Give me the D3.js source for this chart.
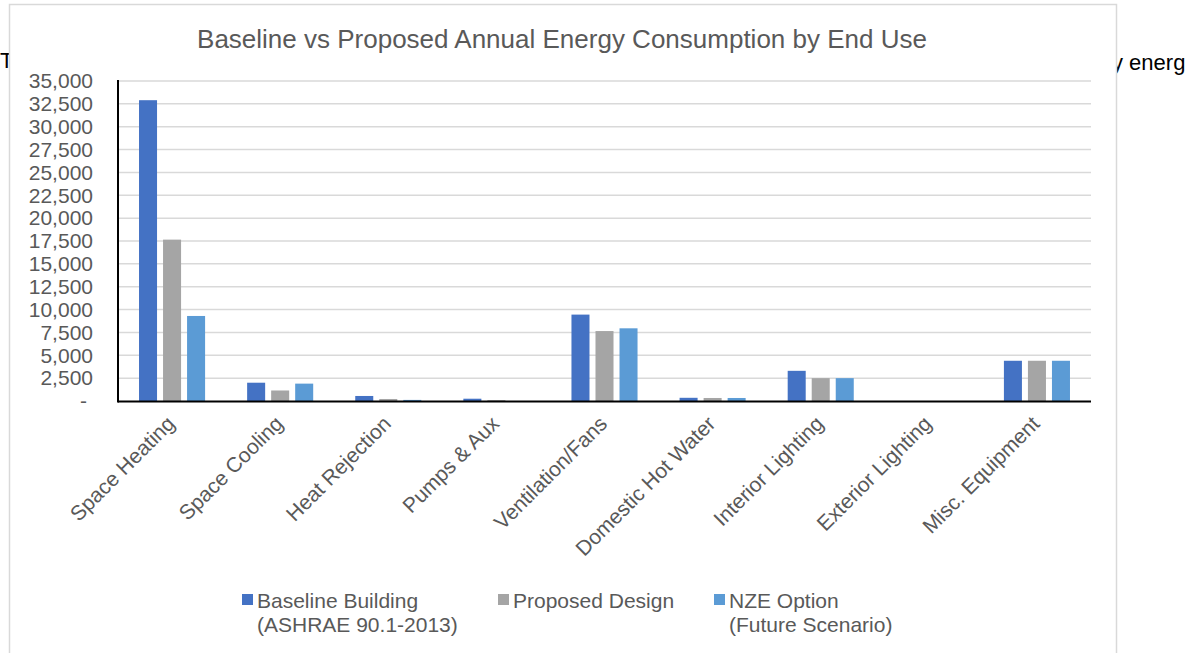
<!DOCTYPE html>
<html>
<head>
<meta charset="utf-8">
<script src="https://cdn.jsdelivr.net/npm/d3@7"></script>
<style>
  body { margin: 0; background: #fff; }
  svg { display: block; font-family: "Liberation Sans", Arial, sans-serif; }
</style>
</head>
<body>
<svg id="chart" width="1192" height="653"></svg>
<script>
var categories = ['Space Heating', 'Space Cooling', 'Heat Rejection', 'Pumps & Aux', 'Ventilation/Fans',
    'Domestic Hot Water', 'Interior Lighting', 'Exterior Lighting', 'Misc. Equipment'];
var seriesNames = ['Baseline Building', 'Proposed Design', 'NZE Option'];
var seriesSubtitles = ['(ASHRAE 90.1-2013)', '', '(Future Scenario)'];
var baseline = [32900, 2000, 550, 250, 9450, 350, 3300, 0, 4400];
var proposed = [17650, 1150, 220, 100, 7650, 330, 2500, 0, 4400];
var nze = [9300, 1900, 120, 0, 7950, 330, 2500, 0, 4400];
var yTicks = [0, 2500, 5000, 7500, 10000, 12500, 15000, 17500, 20000, 22500, 25000, 27500, 30000, 32500, 35000];
var colors = ['#4472C4', '#A5A5A5', '#5B9BD5'];

var allSeries = [baseline, proposed, nze];

var svg = d3.select('#chart');

// page text peeking out behind the chart box
svg.append('text').attr('x', 0).attr('y', 68).attr('font-size', 22).attr('fill', '#000').text('T');
svg.append('text').attr('x', 1112).attr('y', 70).attr('font-size', 22).attr('fill', '#000').text('y energ');

svg.append('rect')
    .attr('x', 9.5).attr('y', 4.5)
    .attr('width', 1107).attr('height', 670)
    .attr('fill', '#fff')
    .attr('stroke', '#d9d9d9')
    .attr('stroke-width', 1.5);

svg.append('text')
    .attr('x', 562).attr('y', 48)
    .attr('text-anchor', 'middle')
    .attr('font-size', 26)
    .attr('fill', '#595959')
    .text('Baseline vs Proposed Annual Energy Consumption by End Use');

var margin = { left: 118, right: 1091, top: 81, bottom: 401 };

var x = d3.scaleBand().domain(categories).range([margin.left, margin.right]);
var xs = d3.scaleBand().domain(d3.range(3)).range([0, x.bandwidth()]).paddingInner(0.25).paddingOuter(0.875);
var y = d3.scaleLinear().domain([0, 35000]).range([margin.bottom, margin.top]);

// gridlines
svg.append('g')
    .selectAll('line')
    .data(yTicks.slice(1))
    .join('line')
    .attr('x1', margin.left).attr('x2', margin.right)
    .attr('y1', function(d) { return y(d); })
    .attr('y2', function(d) { return y(d); })
    .attr('stroke', '#d9d9d9')
    .attr('stroke-width', 1.5);

// y axis labels
var yAxis = svg.append('g')
    .attr('transform', 'translate(' + margin.left + ',0)')
    .call(d3.axisLeft(y).tickValues(yTicks).tickSize(0).tickPadding(25)
        .tickFormat(function(d) { return d === 0 ? '-' : d3.format(',')(d); }));
yAxis.select('.domain').remove();
yAxis.selectAll('text').attr('font-size', 21).attr('fill', '#595959').attr('font-family', null);
yAxis.selectAll('text').filter(function(d) { return d === 0; }).attr('dx', -6);

// bars
var groups = svg.append('g')
    .selectAll('g')
    .data(categories)
    .join('g')
    .attr('transform', function(d) { return 'translate(' + x(d) + ',0)'; });

groups.selectAll('rect')
    .data(function(d, i) { return allSeries.map(function(s, k) { return { k: k, v: s[i] }; }); })
    .join('rect')
    .attr('x', function(d) { return xs(d.k); })
    .attr('width', xs.bandwidth())
    .attr('y', function(d) { return y(d.v); })
    .attr('height', function(d) { return y(0) - y(d.v); })
    .attr('fill', function(d) { return colors[d.k]; });

// axis lines
svg.append('line')
    .attr('x1', margin.left).attr('x2', margin.right)
    .attr('y1', margin.bottom + 0.5).attr('y2', margin.bottom + 0.5)
    .attr('stroke', '#000').attr('stroke-width', 2);
svg.append('line')
    .attr('x1', margin.left).attr('x2', margin.left)
    .attr('y1', margin.top - 1).attr('y2', margin.bottom + 1.5)
    .attr('stroke', '#000').attr('stroke-width', 2);

// category labels
svg.append('g')
    .selectAll('text')
    .data(categories)
    .join('text')
    .attr('transform', function(d) {
        return 'translate(' + (x(d) + x.bandwidth() / 2 + 4) + ',' + (margin.bottom + 24) + ') rotate(-45)';
    })
    .attr('text-anchor', 'end')
    .attr('font-size', 21)
    .attr('fill', '#595959')
    .text(function(d) { return d; });

// legend
var legendX = [242, 498, 714];
var legend = svg.append('g')
    .selectAll('g')
    .data(seriesNames)
    .join('g')
    .attr('transform', function(d, i) { return 'translate(' + legendX[i] + ',594)'; });
legend.append('rect')
    .attr('width', 11).attr('height', 11)
    .attr('fill', function(d, i) { return colors[i]; });
legend.append('text')
    .attr('x', 15).attr('y', 14)
    .attr('font-size', 21)
    .attr('fill', '#595959')
    .text(function(d) { return d; });
legend.append('text')
    .attr('x', 15).attr('y', 38)
    .attr('font-size', 21)
    .attr('fill', '#595959')
    .text(function(d, i) { return seriesSubtitles[i]; });
</script>
</body>
</html>
